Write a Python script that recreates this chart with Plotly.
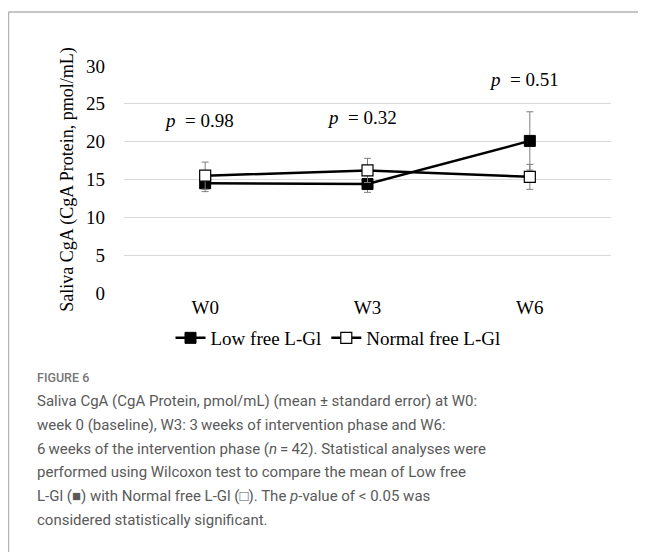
import plotly.graph_objects as go

categories = ["W0", "W3", "W6"]
low_mean = [14.5, 14.4, 20.1]
low_se = [1.1, 1.1, 3.85]
normal_mean = [15.5, 16.2, 15.35]
normal_se = [1.8, 1.6, 1.65]
p_labels = ["0.98", "0.32", "0.51"]
p_y = [22.75, 23.25, 28.2]
y_ticks = [0, 5, 10, 15, 20, 25, 30]

# the page body adds an 8px margin, so the figure is laid out in page coords minus 8
OFF = 8
W, H = 646 - OFF, 552 - OFF
L, R, T, B = 124 - OFF, 43 - OFF, 66 - OFF, 267 - OFF

serif = "Liberation Serif"
fig = go.Figure()

fig.add_trace(go.Scatter(
    x=categories, y=low_mean, name="Low free L-Gl", mode="lines+markers",
    line=dict(color="black", width=2.5),
    marker=dict(symbol="square", size=11, color="black", line=dict(color="black", width=1)),
    error_y=dict(type="data", array=low_se, visible=True, color="#7f7f7f", thickness=1, width=3.5),
))
fig.add_trace(go.Scatter(
    x=categories, y=normal_mean, name="Normal free L-Gl", mode="lines+markers",
    line=dict(color="black", width=2.5),
    marker=dict(symbol="square", size=11, color="white", line=dict(color="black", width=1.2)),
    error_y=dict(type="data", array=normal_se, visible=True, color="#7f7f7f", thickness=1, width=3.5),
))

for c, pl, pyv in zip(categories, p_labels, p_y):
    fig.add_annotation(x=c, y=pyv, xref="x", yref="y", text="<i>p</i>  = " + pl,
                       showarrow=False, xshift=-6,
                       font=dict(family=serif, size=19, color="black"))

def px(xp):
    return (xp - OFF - L) / (W - L - R)

def py_(yp):
    return (H - B - (yp - OFF)) / (H - T - B)

# frame
fig.add_shape(type="line", xref="paper", yref="paper", x0=px(8.5), x1=px(700), y0=py_(12), y1=py_(12),
              line=dict(color="#b3b3b3", width=1.5))
fig.add_shape(type="line", xref="paper", yref="paper", x0=px(8.5), x1=px(8.5), y0=py_(12), y1=py_(600),
              line=dict(color="#b3b3b3", width=1.5))

caption_font = "Roboto"
fig.add_annotation(xref="paper", yref="paper", x=px(35), y=py_(377), xanchor="left", yanchor="middle",
                   text="FIGURE 6", showarrow=False,
                   font=dict(family=caption_font, size=12.5, color="#777777", weight=500))
caption_lines = [
    "Saliva CgA (CgA Protein, pmol/mL) (mean ± standard error) at W0:",
    "week 0 (baseline), W3: 3\u2009weeks of intervention phase and W6:",
    "6\u2009weeks of the intervention phase (<i>n</i>\u2009=\u200942). Statistical analyses were",
    "performed using Wilcoxon test to compare the mean of Low free",
    "L-Gl (\u25a0) with Normal free L-Gl (\u25a1). The <i>p</i>-value of &lt; 0.05 was",
    "considered statistically significant.",
]
for i, line in enumerate(caption_lines):
    fig.add_annotation(xref="paper", yref="paper", x=px(35), y=py_(401 + i * 23.8),
                       xanchor="left", yanchor="middle", text=line, showarrow=False,
                       font=dict(family=caption_font, size=15, color="#5a5a5a"))

fig.update_layout(
    width=W, height=H,
    margin=dict(l=L, r=R, t=T, b=B, autoexpand=False),
    paper_bgcolor="white", plot_bgcolor="white",
    font=dict(family=serif, size=19, color="black"),
    showlegend=True,
    legend=dict(orientation="h", x=px(338), xanchor="center", y=py_(338), yanchor="middle",
                font=dict(family=serif, size=19, color="black"), itemwidth=30,
                traceorder="normal", bgcolor="rgba(0,0,0,0)"),
    xaxis=dict(type="category", range=[-0.5, 2.5], showgrid=False, zeroline=False, showline=False,
               ticks="", ticklabelstandoff=1, tickfont=dict(family=serif, size=19)),
    yaxis=dict(range=[0, 30], tickvals=y_ticks, showgrid=True, gridcolor="#d9d9d9", gridwidth=1,
               zeroline=False, showline=False, ticks="", ticklabelstandoff=18,
               tickfont=dict(family=serif, size=19),
               title=dict(text="Saliva CgA (CgA Protein, pmol/mL)", standoff=7,
                          font=dict(family=serif, size=18))),
)

fig.write_html("out.html")
